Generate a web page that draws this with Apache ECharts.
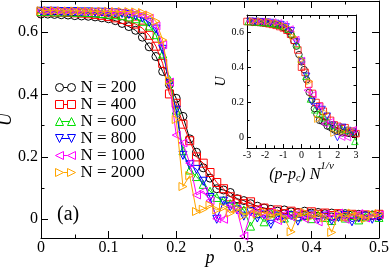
<!DOCTYPE html>
<html><head><meta charset="utf-8">
<script src="https://cdn.jsdelivr.net/npm/echarts@6/dist/echarts.min.js"></script>
<style>html,body{margin:0;padding:0;background:#fff}#c{width:390px;height:270px}</style>
</head><body><div id="c"></div>
<script>
// ---- data ----
const P = [0.00,0.01,0.02,0.03,0.04,0.05,0.06,0.07,0.08,0.09,
           0.10,0.11,0.12,0.13,0.14,0.15,0.16,0.17,0.18,0.19,
           0.20,0.21,0.22,0.23,0.24,0.25,0.26,0.27,0.28,0.29,
           0.30,0.31,0.32,0.33,0.34,0.35,0.36,0.37,0.38,0.39,
           0.40,0.41,0.42,0.43,0.44,0.45,0.46,0.47,0.48,0.49,0.50];
const U200 = [0.658,0.658,0.657,0.656,0.655,0.653,0.652,0.651,0.649,0.646,
              0.643,0.637,0.628,0.618,0.606,0.584,0.553,0.522,0.474,0.432,
              0.388,0.330,0.258,0.215,0.165,0.132,0.098,0.094,0.086,0.066,
              0.060,0.050,0.042,0.036,0.032,0.026,0.030,0.024,0.022,0.026,
              0.020,0.022,0.018,0.020,0.016,0.018,0.014,0.016,0.012,0.014,0.010];
const U400 = [0.665,0.665,0.664,0.664,0.663,0.662,0.661,0.659,0.657,0.654,
              0.650,0.646,0.641,0.634,0.626,0.613,0.590,0.555,0.500,0.402,
              0.372,0.305,0.252,0.200,0.180,0.150,0.118,0.098,0.072,0.064,
              0.050,0.056,0.030,0.036,0.022,0.030,0.018,0.026,0.020,0.014,
              0.024,0.016,0.020,0.012,0.018,0.010,0.016,0.008,0.014,0.012,0.016];
const U600 = [0.666,0.666,0.665,0.665,0.665,0.664,0.664,0.663,0.662,0.660,
              0.658,0.656,0.653,0.649,0.643,0.635,0.620,0.592,0.530,0.448,
              0.350,0.220,0.158,0.137,0.112,0.090,0.070,0.062,0.050,0.040,
              0.030,-0.022,0.018,-0.008,0.020,0.012,0.004,0.016,0.008,0.012,
              0.002,0.014,0.006,-0.004,0.010,0.004,0.012,-0.002,0.008,0.014,0.006];
const U800 = [0.667,0.667,0.667,0.666,0.666,0.666,0.665,0.665,0.664,0.664,
              0.663,0.662,0.660,0.657,0.652,0.645,0.632,0.610,0.545,0.435,
              0.350,0.205,0.175,0.160,0.122,0.070,0.000,0.058,0.040,0.030,
              0.010,0.024,0.004,0.014,-0.016,0.010,0.002,0.012,-0.006,0.008,
              0.014,0.000,0.010,-0.004,0.006,0.012,-0.008,0.004,0.010,0.000,0.006];
const U1000 = [0.668,0.668,0.668,0.667,0.667,0.667,0.666,0.666,0.666,0.665,
               0.665,0.664,0.663,0.662,0.660,0.655,0.645,0.620,0.560,0.440,
               0.270,0.245,0.180,0.078,0.090,0.060,0.002,0.000,0.045,0.028,
               -0.054,0.020,0.030,0.010,0.024,-0.004,0.016,0.008,0.020,0.002,
               0.012,-0.008,0.016,0.006,0.020,0.000,0.012,0.018,0.004,0.010,0.014];
const U2000 = [0.669,0.669,0.669,0.668,0.668,0.668,0.668,0.667,0.667,0.667,
               0.667,0.666,0.666,0.666,0.665,0.663,0.655,0.635,0.575,0.445,
               0.320,0.105,0.140,0.025,0.032,0.045,0.030,0.038,0.020,0.034,
               0.012,0.028,0.016,0.024,0.010,0.020,0.004,-0.040,0.014,0.022,
               0.008,0.018,0.004,-0.042,0.016,0.006,0.020,0.010,0.002,0.014,0.018];
const SIZES = [200, 400, 600, 800, 1000, 2000];
const NAMES = ['N = 200','N = 400','N = 600','N = 800','N = 1000','N = 2000'];
const X_TICKS_MAIN = [0, 0.1, 0.2, 0.3, 0.4, 0.5];
const Y_MAJOR = [0, 0.2, 0.4, 0.6];
const Y_MINOR = [0.1, 0.3, 0.5];
const PC = 0.19;   // critical point used for the inset collapse
const NU = 2;      // exponent nu used for the inset collapse

// ---- styles ----
const SERIES = [U200, U400, U600, U800, U1000, U2000];
const COLORS = ['#000000','#ff0000','#00e000','#0000ff','#ff00ff','#ffa500'];
const SYMBOLS = ['circle','rect','triangle','triangle','triangle','triangle'];
const ROT = [0, 0, 0, 180, 90, -90];
// legend glyphs: marker - line - marker, in a 20x8 box
const LEGEND_ICONS = [
  'path://M0,4A4,4 0 1,1 8,4A4,4 0 1,1 0,4Z M8,4L12,4 M12,4A4,4 0 1,1 20,4A4,4 0 1,1 12,4Z',
  'path://M0,0L8,0L8,8L0,8Z M8,4L12,4 M12,0L20,0L20,8L12,8Z',
  'path://M4,0L8,8L0,8Z M6,4L14,4 M16,0L20,8L12,8Z',
  'path://M0,0L8,0L4,8Z M6,4L14,4 M12,0L20,0L16,8Z',
  'path://M8,0L8,8L0,4Z M8,4L12,4 M20,0L20,8L12,4Z',
  'path://M0,0L8,4L0,8Z M8,4L12,4 M12,0L20,4L12,8Z'
];
const FONT = 'Liberation Serif';

function xAx(grid, pos, min, max, interval, majorLen, minorLen, labels, fs) {
  return {type:'value', gridIndex:grid, position:pos, min:min, max:max, interval:interval,
    axisLine:{show:true, onZero:false, lineStyle:{color:'#000', width:1}},
    axisTick:{show:true, inside:true, length:majorLen, lineStyle:{color:'#000'}},
    minorTick:{show:true, splitNumber:2, length:minorLen, lineStyle:{color:'#000'}},
    splitLine:{show:false}, minorSplitLine:{show:false},
    axisLabel:{show:labels, margin:2, fontFamily:FONT, fontSize:fs, color:'#000'}};
}
function yAx(grid, pos, values, len, line, labels, fs) {
  return {type:'value', gridIndex:grid, position:pos, min:-0.06, max:0.7,
    axisLine:{show:line, onZero:false, lineStyle:{color:'#000', width:1}},
    axisTick:{show:true, inside:true, length:len, customValues:values, lineStyle:{color:'#000'}},
    splitLine:{show:false},
    axisLabel:{show:labels, customValues:values, margin:3, fontFamily:FONT, fontSize:fs, color:'#000'}};
}

const xAxis = [
  Object.assign(xAx(0,'bottom',0,0.5,0.1,7,3.5,true,16), {
    name:'p', nameLocation:'middle', nameGap:11, nameMoveOverlap:false,
    nameTextStyle:{fontFamily:FONT, fontSize:18, fontStyle:'italic', color:'#000'}}),
  xAx(0,'top',0,0.5,0.1,7,3.5,false,16),
  Object.assign(xAx(1,'bottom',-3,3,1,4,2.5,true,10), {
    name:'{i|(p-p}{sub|c}{i|) N}{sup|1/ν}', nameLocation:'middle', nameGap:13, nameMoveOverlap:false,
    nameTextStyle:{fontFamily:FONT, color:'#000', rich:{
      i:{fontFamily:FONT, fontSize:16, fontStyle:'italic', color:'#000', verticalAlign:'bottom', lineHeight:20},
      sub:{fontFamily:FONT, fontSize:10, fontStyle:'italic', color:'#000', verticalAlign:'bottom', lineHeight:16},
      sup:{fontFamily:FONT, fontSize:11, fontStyle:'italic', color:'#000', verticalAlign:'top', lineHeight:22}}}}),
  xAx(1,'top',-3,3,1,4,2.5,false,10)
];
const yAxis = [
  Object.assign(yAx(0,'left',Y_MAJOR,7,true,true,16), {
    name:'U', nameLocation:'middle', nameGap:26, nameRotate:90, nameMoveOverlap:false,
    nameTextStyle:{fontFamily:FONT, fontSize:18, fontStyle:'italic', color:'#000'}}),
  yAx(0,'left',Y_MINOR,3.5,false,false,16),
  yAx(0,'right',Y_MAJOR,7,true,false,16),
  yAx(0,'right',Y_MINOR,3.5,false,false,16),
  Object.assign(yAx(1,'left',Y_MAJOR,4,true,true,10), {
    name:'U', nameLocation:'middle', nameGap:19, nameRotate:90, nameMoveOverlap:false,
    nameTextStyle:{fontFamily:FONT, fontSize:14, fontStyle:'italic', color:'#000'}}),
  yAx(1,'left',Y_MINOR,2.5,false,false,10),
  yAx(1,'right',Y_MAJOR,4,true,false,10),
  yAx(1,'right',Y_MINOR,2.5,false,false,10)
];

const series = [];
SERIES.forEach((s, i) => {
  series.push({type:'line', name:NAMES[i], xAxisIndex:0, yAxisIndex:0,
    data:P.map((p, j) => [p, s[j]]),
    symbol:SYMBOLS[i], symbolRotate:ROT[i], symbolSize:8, showSymbol:true,
    lineStyle:{color:COLORS[i], width:1},
    itemStyle:{color:'rgba(255,255,255,0)', borderColor:COLORS[i], borderWidth:1},
    z:2+i, animation:false, silent:true});
});
SERIES.forEach((s, i) => {
  const f = Math.pow(SIZES[i], 1 / NU);
  series.push({type:'scatter', name:NAMES[i] + ' (scaled)', xAxisIndex:2, yAxisIndex:4,
    data:P.map((p, j) => [(p - PC) * f, s[j]]).filter(d => Math.abs(d[0]) <= 3.05),
    symbol:SYMBOLS[i], symbolRotate:ROT[i], symbolSize:6.5, clip:true,
    itemStyle:{color:'rgba(255,255,255,0)', borderColor:COLORS[i], borderWidth:1},
    z:10+i, animation:false, silent:true});
});

const chart = echarts.init(document.getElementById('c'), null, {renderer:'canvas'});
chart.setOption({
  animation:false,
  backgroundColor:'#fff',
  grid:[{left:41, top:1, width:338, height:237, outerBoundsMode:'none', containLabel:false},
        {left:247, top:15, width:109, height:133, outerBoundsMode:'none', containLabel:false,
         backgroundColor:'#fff', show:true, borderWidth:0}],
  xAxis:xAxis, yAxis:yAxis,
  legend:{orient:'vertical', left:55, top:79, padding:0, symbolRotate:0,
    itemWidth:20, itemHeight:8, itemGap:0,
    data:NAMES.map((n, i) => ({name:n, icon:LEGEND_ICONS[i],
      itemStyle:{color:'rgba(255,255,255,0)', borderColor:COLORS[i], borderWidth:1}})),
    textStyle:{fontFamily:FONT, fontSize:17, color:'#000', lineHeight:17}},
  graphic:[{type:'text', left:57, top:205, style:{text:'(a)', font:'20px "Liberation Serif"', fill:'#000'}}],
  series:series
});
</script></body></html>
